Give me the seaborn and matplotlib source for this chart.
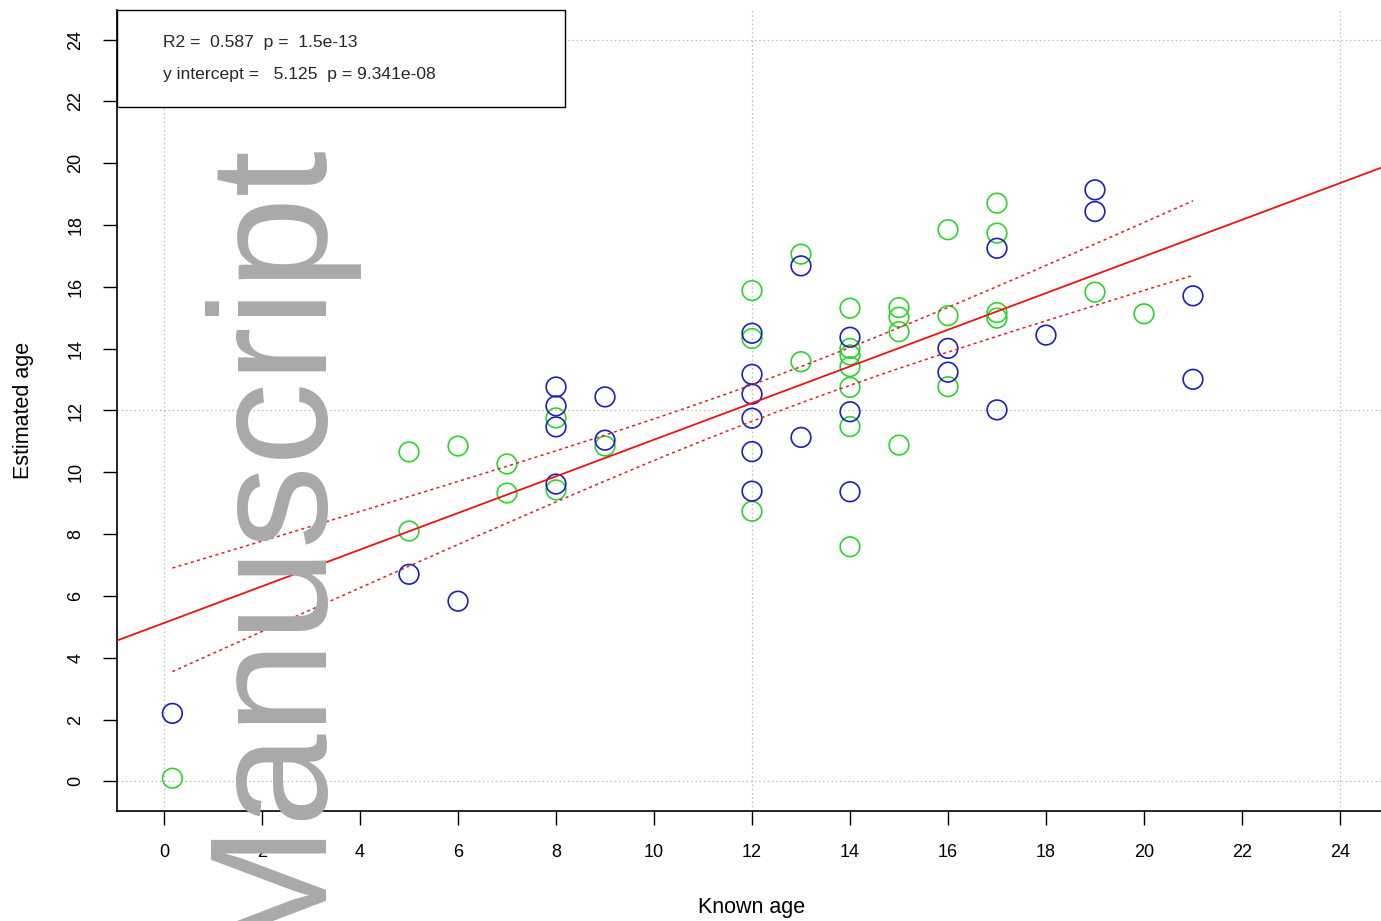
import numpy as np
import pandas as pd
import matplotlib
matplotlib.use("Agg")
import matplotlib.pyplot as plt
from matplotlib.patches import Rectangle
import seaborn as sns

# Known vs estimated age, two estimate groups
known_blue = [0.17, 5, 6, 8, 8, 8, 8, 9, 9, 12, 12, 12, 12, 12, 12, 13, 13,
              14, 14, 14, 16, 16, 17, 17, 18, 19, 19, 21, 21]
est_blue = [2.2, 6.7, 5.83, 12.76, 12.15, 11.47, 9.62, 12.44, 11.04, 14.5,
            13.17, 12.53, 11.75, 10.67, 9.39, 16.68, 11.13, 14.37, 11.96, 9.37,
            14.01, 13.24, 17.25, 12.02, 14.44, 19.14, 18.44, 15.71, 13.01]

known_green = [0.17, 5, 5, 6, 7, 7, 8, 8, 9, 12, 12, 12, 13, 13, 14, 14, 14,
               14, 14, 14, 14, 15, 15, 15, 15, 16, 16, 16, 17, 17, 17, 17, 19, 20]
est_green = [0.1, 10.66, 8.1, 10.85, 10.27, 9.33, 11.76, 9.43, 10.85, 15.88,
             14.33, 8.74, 17.06, 13.58, 15.31, 14.01, 13.8, 13.42, 12.75, 11.48,
             7.59, 15.33, 15.02, 14.55, 10.88, 17.85, 15.07, 12.77, 18.71, 17.74,
             15.17, 14.99, 15.83, 15.13]

# Regression summary
r2 = 0.587
p_slope = "1.5e-13"
intercept = 5.125
p_intercept = "9.341e-08"
slope = 0.593

axis_ticks = list(range(0, 25, 2))
grid_lines = [0, 12, 24]

sns.set_theme(style="white")
plt.rcParams["font.family"] = ["Liberation Sans", "DejaVu Sans"]

fig = plt.figure(figsize=(13.81, 9.21), dpi=100)
W, H = 1381, 921
ax = fig.add_axes([117 / W, (H - 811) / H, 1270 / W, 801 / H])
ax.patch.set_alpha(0)

# "Manuscript" watermark behind the plot
fig.text(313 / W, 1 - 136 / H, "Manuscript", rotation=90, rotation_mode="anchor",
         ha="right", va="baseline", fontsize=120, color="#a9a9a9", zorder=0,
         family=["Liberation Sans", "DejaVu Sans"])

ax.set_xlim(-0.96, 24.96)
ax.set_ylim(-0.96, 24.96)

grid_kw = dict(color="#bcbcbc", lw=0.9, linestyle=(0, (1.2, 2.2)), zorder=1)
for g in grid_lines:
    ax.axhline(g, **grid_kw)
    ax.axvline(g, **grid_kw)

blue_df = pd.DataFrame({"known": known_blue, "est": est_blue})
green_df = pd.DataFrame({"known": known_green, "est": est_green})

sns.scatterplot(data=green_df, x="known", y="est", ax=ax, marker="o", s=200,
                facecolors="none", edgecolor="#2ed42e", linewidth=1.2, zorder=3)
sns.scatterplot(data=blue_df, x="known", y="est", ax=ax, marker="o", s=200,
                facecolors="none", edgecolor="#1e1eb8", linewidth=1.2, zorder=3)

# Fitted line
ax.axline((0, intercept), slope=slope, color="#ee1111", lw=1.3, zorder=4)

# 95% confidence band of the fitted line
x_all = np.array(known_blue + known_green, dtype=float)
y_all = np.array(est_blue + est_green, dtype=float)
n = len(x_all)
resid = y_all - (intercept + slope * x_all)
s = np.sqrt(np.sum(resid ** 2) / (n - 2))
xbar = x_all.mean()
sxx = np.sum((x_all - xbar) ** 2)
t_crit = 1.9996
xs = np.linspace(x_all.min(), x_all.max(), 200)
fit = intercept + slope * xs
hw = t_crit * s * np.sqrt(1 / n + (xs - xbar) ** 2 / sxx)
band = pd.DataFrame({"x": xs, "upper": fit + hw, "lower": fit - hw})
for col in ["upper", "lower"]:
    sns.lineplot(data=band, x="x", y=col, ax=ax, color="#dd2222", lw=1.1,
                 linestyle=(0, (2, 2.2)), estimator=None, sort=False, zorder=4)

# Stats box in the top-left corner
ax.add_patch(Rectangle((0, 1), 448 / 1270, -97 / 801, transform=ax.transAxes,
                       fill=True, facecolor="white", edgecolor="black", lw=1.0,
                       zorder=5, clip_on=False))
ax.text(45.7 / 1270, (811 - 42) / 801, f"R2 =  {r2}  p =  {p_slope}",
        transform=ax.transAxes, fontsize=12.6, va="center", ha="left", zorder=6)
ax.text(45.7 / 1270, (811 - 75) / 801,
        f"y intercept =   {intercept}  p = {p_intercept}",
        transform=ax.transAxes, fontsize=12.6, va="center", ha="left", zorder=6)

ax.set_xticks(axis_ticks)
ax.set_yticks(axis_ticks)
ax.set_xticklabels([str(t) for t in axis_ticks], fontsize=13)
ax.set_yticklabels([str(t) for t in axis_ticks], fontsize=13, rotation=90, va="center")
ax.tick_params(axis="both", which="major", direction="out", length=10, width=1.0,
               color="black", pad=13.5, bottom=True, left=True, labelcolor="black")

for side in ["top", "right"]:
    ax.spines[side].set_visible(False)
for side in ["left", "bottom"]:
    ax.spines[side].set_color("black")
    ax.spines[side].set_linewidth(1.2)

ax.set_xlabel("Known age", fontsize=15.5, labelpad=26, color="black")
ax.set_ylabel("Estimated age", fontsize=15.5, labelpad=24, color="black")

fig.savefig("out.png", dpi=100)
